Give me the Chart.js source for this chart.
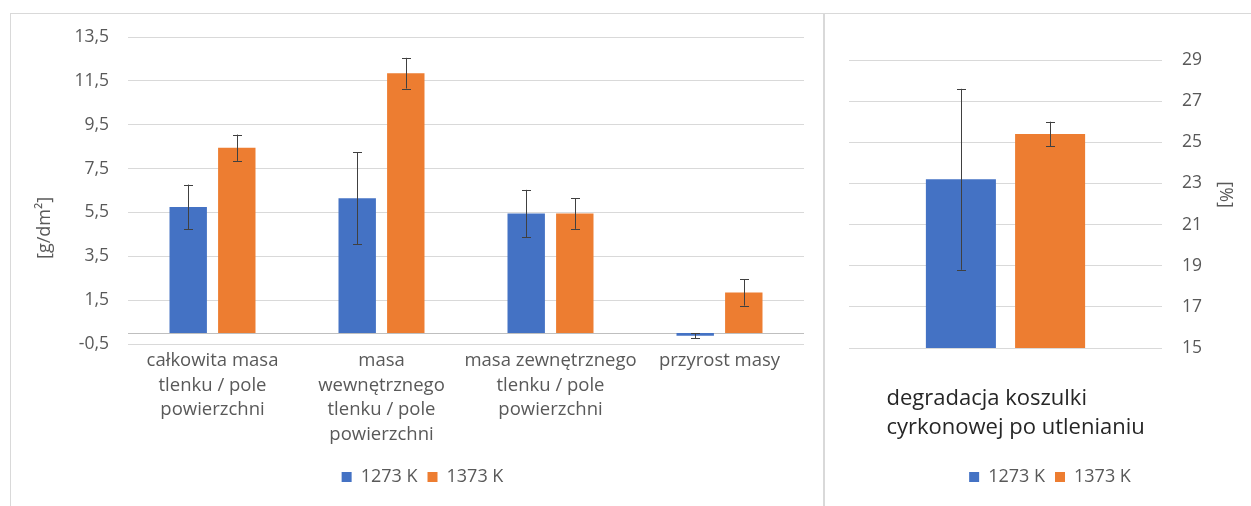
<!DOCTYPE html>
<html>
<head>
<meta charset="utf-8">
<script src="https://cdn.jsdelivr.net/npm/chart.js@4.4.1/dist/chart.umd.min.js"></script>
<style>
  html, body { margin: 0; padding: 0; background: #ffffff; }
  body { width: 1251px; height: 506px; position: relative; overflow: hidden; }
  .panel { position: absolute; box-sizing: border-box; border-top: 1px solid #d9d9d9; }
  #leftPanel { left: 10px; top: 13px; width: 814px; height: 493px; border-left: 1px solid #d9d9d9; border-right: 1px solid #d9d9d9; }
  #rightPanel { left: 824px; top: 13px; width: 427px; height: 493px; border-left: 1px solid #d9d9d9; }
  canvas { display: block; }
</style>
</head>
<body>
<div class="panel" id="leftPanel"><canvas id="cLeft" width="812" height="492"></canvas></div>
<div class="panel" id="rightPanel"><canvas id="cRight" width="426" height="492"></canvas></div>
<script>
// ---- data ----
const seriesNames = ['1273 K', '1373 K'];
const leftCategories = [
  ['całkowita masa', 'tlenku / pole', 'powierzchni'],
  ['masa', 'wewnętrznego', 'tlenku / pole', 'powierzchni'],
  ['masa zewnętrznego', 'tlenku / pole', 'powierzchni'],
  ['przyrost masy']
];
const left1273 = [5.75, 6.15, 5.45, -0.12];
const left1273Err = [1.02, 2.1, 1.08, 0.12];
const left1373 = [8.45, 11.85, 5.45, 1.85];
const left1373Err = [0.6, 0.7, 0.7, 0.6];
const leftTicks = [-0.5, 1.5, 3.5, 5.5, 7.5, 9.5, 11.5, 13.5];
const leftAxisTitle = '[g/dm²]';

const rightCategories = [['degradacja koszulki', 'cyrkonowej po utlenianiu']];
const right1273 = [23.2];
const right1273Err = [4.4];
const right1373 = [25.4];
const right1373Err = [0.6];
const rightTicks = [15, 17, 19, 21, 23, 25, 27, 29];
const rightAxisTitle = '[%]';

// ---- styles ----
const BLUE = '#4472C4';
const ORANGE = '#ED7D31';
const GRID = '#d9d9d9';
const TEXT = '#595959';
const FONT = "'Open Sans', 'Noto Sans', sans-serif";
const NBSP = '\u00A0';

const fmt = v => (Math.round(v * 10) / 10).toFixed(Number.isInteger(v) ? 0 : 1).replace('.', ',');

const errorBars = {
  id: 'errorBars',
  afterDatasetsDraw(chart) {
    const ctx = chart.ctx;
    const y = chart.scales.y;
    ctx.save();
    ctx.strokeStyle = '#404040';
    ctx.lineWidth = 1;
    chart.data.datasets.forEach((ds, di) => {
      const meta = chart.getDatasetMeta(di);
      meta.data.forEach((bar, i) => {
        const v = ds.data[i], e = ds.errors[i];
        const x = Math.round(bar.x) + 0.5;
        const yt = y.getPixelForValue(v + e);
        const yb = y.getPixelForValue(v - e);
        ctx.beginPath();
        ctx.moveTo(x, yt); ctx.lineTo(x, yb);
        ctx.moveTo(x - 4.5, Math.round(yt) + 0.5); ctx.lineTo(x + 4.5, Math.round(yt) + 0.5);
        ctx.moveTo(x - 4.5, Math.round(yb) + 0.5); ctx.lineTo(x + 4.5, Math.round(yb) + 0.5);
        ctx.stroke();
      });
    });
    ctx.restore();
  }
};

const zeroLine = {
  id: 'zeroLine',
  beforeDatasetsDraw(chart) {
    const y = chart.scales.y;
    if (y.min >= 0) return;
    const ctx = chart.ctx;
    const yy = Math.round(y.getPixelForValue(0)) + 0.5;
    ctx.save();
    ctx.strokeStyle = '#bfbfbf';
    ctx.lineWidth = 1;
    ctx.beginPath();
    ctx.moveTo(chart.chartArea.left, yy);
    ctx.lineTo(chart.chartArea.right, yy);
    ctx.stroke();
    ctx.restore();
  }
};

function legendOpts() {
  return {
    display: true,
    position: 'bottom',
    align: 'center',
    labels: {
      color: TEXT,
      font: { family: FONT, size: 18 },
      boxWidth: 10,
      boxHeight: 10,
      padding: 10
    }
  };
}

const noLabelPaddingX = s => { s.paddingLeft = 0; s.paddingRight = 0; };
const noLabelPaddingY = s => { s.paddingTop = 0; s.paddingBottom = 0; };

new Chart(document.getElementById('cLeft'), {
  type: 'bar',
  data: {
    labels: leftCategories,
    datasets: [
      { label: seriesNames[0], data: left1273, errors: left1273Err, backgroundColor: BLUE, borderWidth: 0 },
      { label: seriesNames[1], data: left1373, errors: left1373Err, backgroundColor: ORANGE, borderWidth: 0 }
    ]
  },
  options: {
    responsive: false,
    animation: false,
    events: [],
    categoryPercentage: 0.575,
    barPercentage: 0.77,
    layout: { padding: { top: 23, left: 30, right: 19, bottom: 10 } },
    plugins: { legend: legendOpts(), tooltip: { enabled: false } },
    scales: {
      x: {
        grid: { display: false, drawTicks: false },
        border: { display: false },
        ticks: {
          color: TEXT,
          font: { family: FONT, size: 18.5, lineHeight: 1.32 },
          padding: 5,
          maxRotation: 0,
          autoSkip: false
        },
        afterFit(s) { s.height = 114; noLabelPaddingX(s); }
      },
      y: {
        min: -0.5,
        max: 13.5,
        afterBuildTicks(s) { s.ticks = leftTicks.map(v => ({ value: v })); },
        grid: { color: GRID, drawTicks: false },
        border: { display: false },
        ticks: {
          color: TEXT,
          font: { family: FONT, size: 17.5 },
          padding: 19,
          callback: v => fmt(v)
        },
        title: {
          display: true,
          text: leftAxisTitle + NBSP.repeat(16),
          color: TEXT,
          font: { family: FONT, size: 18 },
          padding: { top: -7, bottom: 0 }
        },
        afterFit(s) { s.width = 87; noLabelPaddingY(s); }
      }
    }
  },
  plugins: [zeroLine, errorBars]
});

new Chart(document.getElementById('cRight'), {
  type: 'bar',
  data: {
    labels: rightCategories,
    datasets: [
      { label: seriesNames[0], data: right1273, errors: right1273Err, backgroundColor: BLUE, borderWidth: 0 },
      { label: seriesNames[1], data: right1373, errors: right1373Err, backgroundColor: ORANGE, borderWidth: 0 }
    ]
  },
  options: {
    responsive: false,
    animation: false,
    events: [],
    categoryPercentage: 0.57,
    barPercentage: 0.785,
    layout: { padding: { top: 46, left: 24, right: 0, bottom: 10 } },
    plugins: { legend: legendOpts(), tooltip: { enabled: false } },
    scales: {
      x: {
        grid: { display: false, drawTicks: false },
        border: { display: false },
        ticks: {
          color: '#262626',
          font: { family: FONT, size: 22, lineHeight: 1.28 },
          padding: 37,
          align: 'start',
          labelOffset: -119,
          maxRotation: 0,
          autoSkip: false
        },
        afterFit(s) { s.height = 110; noLabelPaddingX(s); }
      },
      y: {
        position: 'right',
        min: 15,
        max: 29,
        afterBuildTicks(s) { s.ticks = rightTicks.map(v => ({ value: v })); },
        grid: { color: GRID, drawTicks: false },
        border: { display: false },
        ticks: {
          color: TEXT,
          font: { family: FONT, size: 17.5 },
          padding: 20,
          callback: v => fmt(v)
        },
        title: {
          display: true,
          text: rightAxisTitle + NBSP.repeat(4),
          color: TEXT,
          font: { family: FONT, size: 18 },
          padding: { top: 15, bottom: 0 }
        },
        afterFit(s) { s.width = 89; noLabelPaddingY(s); }
      }
    }
  },
  plugins: [errorBars]
});
</script>
</body>
</html>
